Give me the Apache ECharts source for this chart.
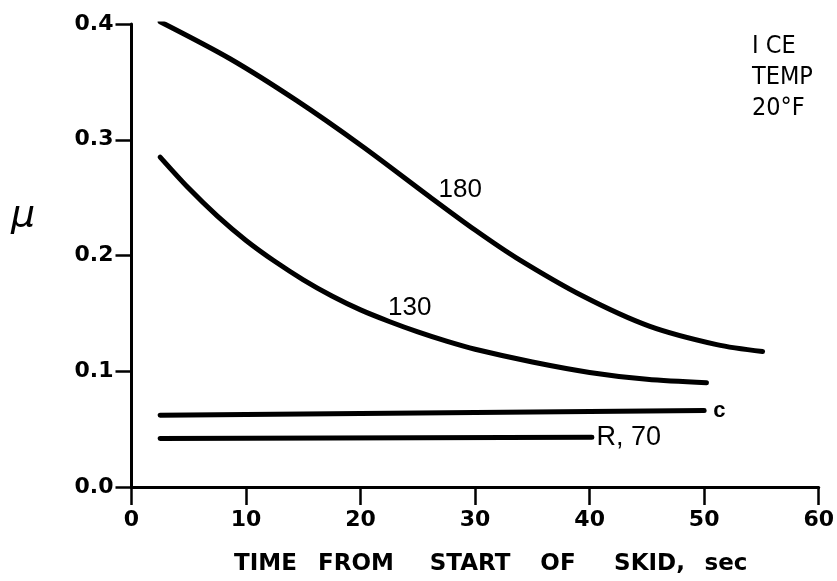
<!DOCTYPE html>
<html>
<head>
<meta charset="utf-8">
<script src="https://cdn.jsdelivr.net/npm/echarts@6/dist/echarts.min.js"></script>
<style>html,body{margin:0;padding:0;background:#fff}#c{width:837px;height:581px}</style>
</head>
<body>
<div id="c"></div>
<script>
// ---- data (time in s, friction coefficient mu) ----
var t180 = [2.5, 8.6, 14.4, 20.2, 26.0, 30.0, 33.6, 39.4, 45.2, 51.1, 55.1];
var mu180 = [0.402, 0.370, 0.334, 0.294, 0.251, 0.222, 0.198, 0.165, 0.139, 0.123, 0.117];
var t130 = [2.5, 5.0, 7.5, 10.0, 12.5, 15.0, 17.5, 20.0, 22.5, 25.0, 27.5, 30.0, 35.0, 40.0, 45.0, 50.2];
var mu130 = [0.285, 0.258, 0.234, 0.213, 0.195, 0.179, 0.165, 0.153, 0.143, 0.134, 0.126, 0.119, 0.108, 0.099, 0.093, 0.090];
var tC = [2.5, 50.0];
var muC = [0.062, 0.066];
var tR70 = [2.5, 40.2];
var muR70 = [0.042, 0.043];
var xTicks = [0, 10, 20, 30, 40, 50, 60];
var yTicks = [0.0, 0.1, 0.2, 0.3, 0.4];
// curve labels: text, anchor in data coords, alignment
var curveLabels = [
  {text: '180', t: 28.7, mu: 0.257, align: 'center', size: 26, weight: 'normal'},
  {text: '130', t: 24.3, mu: 0.155, align: 'center', size: 26, weight: 'normal'},
  {text: 'c', t: 50.8, mu: 0.066, align: 'left', size: 22, weight: 'bold'},
  {text: 'R, 70', t: 40.6, mu: 0.043, align: 'left', size: 27, weight: 'normal'}
];
var xTitleWords = ['TIME', 'FROM', 'START', 'OF', 'SKID,', 'sec'];
var xTitleCenters = [265.5, 356, 470, 558, 649.5, 726];
var noteLines = ['I CE', 'TEMP', '20°F'];

function pairs(xs, ys) { return xs.map(function (x, i) { return [x, ys[i]]; }); }

var chart = echarts.init(document.getElementById('c'));
var lineStyle = {color: '#000', width: 5, cap: 'round', join: 'round'};
function mkSeries(name, xs, ys, smooth) {
  return {
    name: name, type: 'line', data: pairs(xs, ys), smooth: smooth ? 0.3 : false,
    showSymbol: false, symbol: 'none', lineStyle: lineStyle, animation: false, silent: true
  };
}
var tickFont = {fontFamily: 'DejaVu Sans', fontWeight: 'bold', fontSize: 22, color: '#000'};

chart.setOption({
  backgroundColor: '#fff',
  animation: false,
  grid: {left: 131.5, right: 18, top: 24, bottom: 94, containLabel: false},
  xAxis: {
    type: 'value', min: 0, max: 60, interval: 10,
    axisLine: {show: true, onZero: false, lineStyle: {color: '#000', width: 3}},
    axisTick: {show: true, inside: false, length: 18, lineStyle: {color: '#000', width: 2.5}},
    axisLabel: Object.assign({margin: 22, formatter: function (v) { return xTicks.indexOf(v) >= 0 ? String(v) : ''; }}, tickFont),
    splitLine: {show: false}
  },
  yAxis: {
    type: 'value', min: 0, max: 0.4, interval: 0.1,
    axisLine: {show: true, onZero: false, lineStyle: {color: '#000', width: 3}},
    axisTick: {show: true, inside: false, length: 16, lineStyle: {color: '#000', width: 2.5}},
    axisLabel: Object.assign({margin: 18, formatter: function (v) { return v.toFixed(1); }}, tickFont),
    splitLine: {show: false}
  },
  series: [
    mkSeries('180', t180, mu180, true),
    mkSeries('130', t130, mu130, true),
    mkSeries('C', tC, muC, false),
    mkSeries('R,70', tR70, muR70, false)
  ]
});

var g = [];
curveLabels.forEach(function (l) {
  var p = chart.convertToPixel({gridIndex: 0}, [l.t, l.mu]);
  g.push({type: 'text', x: p[0], y: p[1], silent: true,
    style: {text: l.text, fill: '#000', font: l.weight + ' ' + l.size + 'px "Liberation Sans", sans-serif',
      textAlign: l.align, textVerticalAlign: 'middle'}});
});
xTitleWords.forEach(function (w, i) {
  g.push({type: 'text', x: xTitleCenters[i], y: 564, silent: true,
    style: {text: w, fill: '#000', font: 'bold 23px "DejaVu Sans", sans-serif', textAlign: 'center', textVerticalAlign: 'middle'}});
});
noteLines.forEach(function (w, i) {
  g.push({type: 'text', x: 752, y: 46 + i * 31, silent: true,
    style: {text: w, fill: '#000', font: 'normal 25px "DejaVu Sans Condensed", "Liberation Sans Narrow", sans-serif', textAlign: 'left', textVerticalAlign: 'middle'}});
});
g.push({type: 'text', x: 23, y: 216, silent: true,
  style: {text: 'μ', fill: '#000', font: 'italic 38px "DejaVu Sans", sans-serif', textAlign: 'center', textVerticalAlign: 'middle'}});
chart.setOption({graphic: g});
</script>
</body>
</html>
